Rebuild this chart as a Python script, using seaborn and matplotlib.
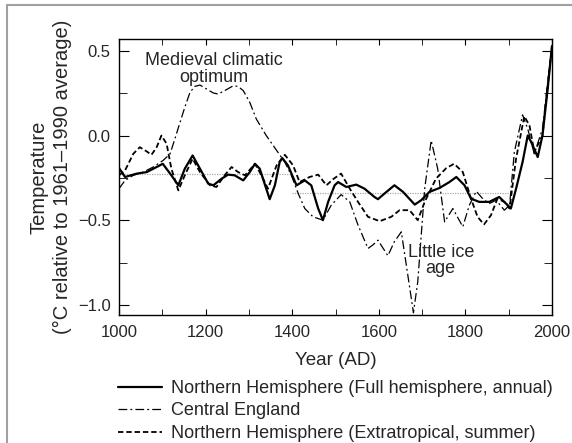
import matplotlib
matplotlib.use('Agg')
import matplotlib.pyplot as plt
import seaborn as sns
from matplotlib.lines import Line2D
from matplotlib.ticker import MultipleLocator

# Northern Hemisphere (full hemisphere, annual)
nh_years = [1000, 1014, 1041, 1064, 1087, 1101, 1121, 1137, 1152, 1170, 1187, 1206, 1218, 1237,
            1252, 1267, 1287, 1302, 1314, 1325, 1340, 1348, 1360, 1371, 1377, 1390, 1410, 1429,
            1444, 1460, 1471, 1483, 1498, 1506, 1525, 1548, 1567, 1590, 1598, 1613, 1636, 1656,
            1683, 1698, 1717, 1740, 1763, 1779, 1798, 1813, 1832, 1855, 1878, 1898, 1905, 1917,
            1932, 1944, 1952, 1967, 1978, 1990, 2000]
nh_vals = [-0.192, -0.245, -0.225, -0.216, -0.186, -0.167, -0.235, -0.294, -0.196, -0.118,
           -0.196, -0.284, -0.294, -0.255, -0.231, -0.235, -0.265, -0.216, -0.167, -0.196,
           -0.314, -0.376, -0.294, -0.157, -0.133, -0.176, -0.294, -0.265, -0.294, -0.431,
           -0.500, -0.392, -0.294, -0.275, -0.304, -0.290, -0.314, -0.363, -0.376, -0.343,
           -0.294, -0.333, -0.408, -0.382, -0.333, -0.310, -0.275, -0.245, -0.294, -0.373,
           -0.392, -0.392, -0.363, -0.412, -0.431, -0.314, -0.157, 0.0, -0.039, -0.127, 0.0,
           0.275, 0.529]

# Central England
ce_years = [1000, 1014, 1033, 1056, 1079, 1102, 1118, 1129, 1141, 1152, 1164, 1175, 1187, 1202,
            1218, 1229, 1244, 1264, 1275, 1287, 1302, 1317, 1340, 1364, 1383, 1398, 1414, 1429,
            1448, 1471, 1490, 1513, 1533, 1552, 1575, 1586, 1598, 1621, 1636, 1652, 1667, 1680,
            1690, 1706, 1721, 1736, 1752, 1771, 1794, 1809, 1825, 1840, 1855, 1871, 1890, 1902,
            1913, 1932, 1944, 1959, 1978, 1990, 2000]
ce_vals = [-0.314, -0.265, -0.235, -0.216, -0.186, -0.147, -0.108, -0.020, 0.078, 0.167, 0.255,
           0.290, 0.298, 0.275, 0.251, 0.245, 0.265, 0.294, 0.290, 0.265, 0.196, 0.098, 0.0,
           -0.088, -0.157, -0.235, -0.343, -0.431, -0.480, -0.500, -0.412, -0.349, -0.392,
           -0.529, -0.667, -0.647, -0.618, -0.710, -0.627, -0.569, -0.824, -1.047, -0.863,
           -0.314, -0.029, -0.196, -0.510, -0.431, -0.539, -0.412, -0.329, -0.373, -0.402,
           -0.382, -0.441, -0.412, -0.098, 0.122, 0.039, -0.108, 0.039, 0.314, 0.529]

# Northern Hemisphere (extratropical, summer)
ex_years = [1000, 1014, 1033, 1048, 1064, 1075, 1087, 1098, 1110, 1121, 1137, 1152, 1170, 1187,
            1210, 1225, 1244, 1260, 1275, 1291, 1314, 1329, 1344, 1364, 1383, 1402, 1417, 1440,
            1460, 1479, 1496, 1513, 1533, 1552, 1575, 1602, 1629, 1648, 1671, 1690, 1706, 1732,
            1756, 1774, 1794, 1813, 1828, 1843, 1859, 1874, 1890, 1902, 1917, 1936, 1948, 1959,
            1978, 1990, 2000]
ex_vals = [-0.235, -0.206, -0.108, -0.069, -0.094, -0.114, -0.069, 0.0, -0.049, -0.196, -0.324,
           -0.235, -0.137, -0.216, -0.294, -0.304, -0.235, -0.186, -0.216, -0.235, -0.167,
           -0.235, -0.314, -0.176, -0.114, -0.176, -0.275, -0.245, -0.231, -0.294, -0.255,
           -0.225, -0.314, -0.392, -0.480, -0.506, -0.480, -0.441, -0.441, -0.500, -0.392,
           -0.255, -0.192, -0.167, -0.216, -0.373, -0.480, -0.525, -0.471, -0.373, -0.392,
           -0.431, -0.137, 0.114, 0.059, -0.098, 0.0, 0.294, 0.529]

# dotted period-mean reference levels
ref_early_years = [1000, 1400]
ref_early_vals = [-0.229, -0.229]
ref_late_years = [1400, 1902]
ref_late_vals = [-0.339, -0.339]

sns.set_style("ticks")
plt.rcParams['font.family'] = ['Liberation Sans', 'DejaVu Sans']
plt.rcParams['font.size'] = 12

fig = plt.figure(figsize=(5.72, 4.43), dpi=100)
ax = fig.add_axes([119 / 572, 1 - 315 / 443, (552 - 119) / 572, (315 - 39) / 443])

sns.lineplot(x=ref_early_years, y=ref_early_vals, ax=ax, color='#aaaaaa', lw=0.9,
             linestyle=(0, (1, 1)), legend=False)
sns.lineplot(x=ref_late_years, y=ref_late_vals, ax=ax, color='#aaaaaa', lw=0.9,
             linestyle=(0, (1, 1)), legend=False)
sns.lineplot(x=ce_years, y=ce_vals, ax=ax, color='black', lw=0.9,
             linestyle=(0, (7, 2.5, 1.5, 2.5)), label='Central England', sort=False)
sns.lineplot(x=ex_years, y=ex_vals, ax=ax, color='black', lw=1.3,
             linestyle=(0, (3, 1.6)), label='Northern Hemisphere (Extratropical, summer)', sort=False)
sns.lineplot(x=nh_years, y=nh_vals, ax=ax, color='black', lw=1.6,
             label='Northern Hemisphere (Full hemisphere, annual)', sort=False)

ax.set_xlim(1000, 2000)
ax.set_ylim(-1.06, 0.57)
ax.xaxis.set_major_locator(MultipleLocator(200))
ax.xaxis.set_minor_locator(MultipleLocator(100))
ax.yaxis.set_major_locator(MultipleLocator(0.5))
ax.yaxis.set_minor_locator(MultipleLocator(0.25))
ax.yaxis.set_major_formatter(lambda v, p: f"{v:.1f}".replace('-', '\u2212'))
ax.tick_params(axis='both', which='both', direction='in', top=True, right=True,
               color='black', labelsize=12)
ax.tick_params(axis='x', which='both', length=4.5, pad=7)
ax.tick_params(axis='y', which='major', length=7.5, pad=6)
ax.tick_params(axis='y', which='minor', length=5.5)
for s in ax.spines.values():
    s.set_color('black')
    s.set_linewidth(1.0)

ax.set_xlabel('Year (AD)', fontsize=13.5, labelpad=9)
ax.set_ylabel('Temperature\n(\u00b0C relative to 1961\u20131990 average)', fontsize=14.5,
              labelpad=4, linespacing=1.35)

ax.text(1218, 0.39, 'Medieval climatic\noptimum', ha='center', va='center',
        fontsize=13, linespacing=1.0)
ax.text(1743, -0.737, 'Little ice\nage', ha='center', va='center',
        fontsize=13, linespacing=0.95)

handles, labels = ax.get_legend_handles_labels()
order = [2, 0, 1]
ax.get_legend().remove()
fig.legend([handles[i] for i in order], [labels[i] for i in order],
           loc='upper left', bbox_to_anchor=(118 / 572, 1 - 380 / 443), frameon=False,
           fontsize=13, handlelength=2.45, handletextpad=0.5, labelspacing=0.3,
           borderaxespad=0, borderpad=0)

# partial grey frame around the figure
fig.add_artist(Line2D([7 / 572, 7 / 572], [0, 1 - 5 / 443], transform=fig.transFigure,
                      color='#a0a0a0', lw=1.5))
fig.add_artist(Line2D([7 / 572, 1], [1 - 5 / 443, 1 - 5 / 443], transform=fig.transFigure,
                      color='#a0a0a0', lw=1.5))

fig.savefig('out.png', dpi=100)
